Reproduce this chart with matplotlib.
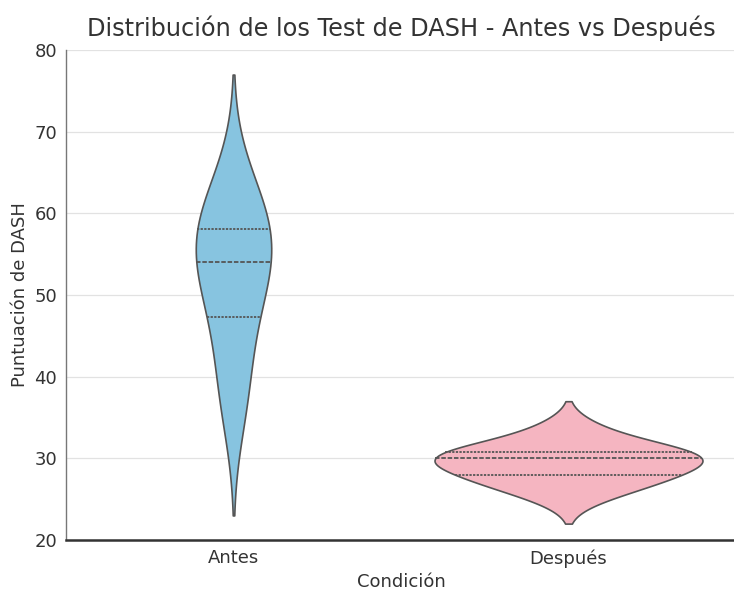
import matplotlib
matplotlib.use("Agg")
import matplotlib.pyplot as plt
import seaborn as sns
import pandas as pd

conditions = ["Antes", "Después"]
antes_scores = [35, 38, 41, 45, 48, 50, 52, 54, 54, 56, 57, 58, 58.5, 60, 62, 65]
despues_scores = [25.5, 27, 28, 28, 30, 30, 30, 31, 31, 33.5]
palette = {"Antes": "#87C4E0", "Después": "#F5B5C1"}

df = pd.DataFrame({
    "Condición": [conditions[0]] * len(antes_scores) + [conditions[1]] * len(despues_scores),
    "Puntuación de DASH": antes_scores + despues_scores,
})

sns.set_style("whitegrid")
plt.rcParams['font.family'] = ['DejaVu Sans']

fig = plt.figure(figsize=(7.34, 5.95), dpi=100)
ax = fig.add_axes([66 / 734, 55 / 595, 670 / 734, 490 / 595])

sns.violinplot(data=df, x="Condición", y="Puntuación de DASH", hue="Condición",
               palette=palette, saturation=1, inner="quart", legend=False, ax=ax,
               linewidth=1.2, linecolor="#555555", order=conditions,
               density_norm="area", common_norm=True,
               bw_adjust=1.2, cut=2,
               inner_kws={"linewidth": 1.3})

ax.set_xlim(-0.5, 1.5)
ax.set_ylim(20, 80)
ax.set_yticks([20, 30, 40, 50, 60, 70, 80])
ax.grid(axis="y", color="#e2e2e2", linewidth=0.9)
ax.grid(axis="x", visible=False)
for s in ["top", "right"]:
    ax.spines[s].set_visible(False)
ax.spines["left"].set_color("#777777")
ax.spines["left"].set_linewidth(1.0)
ax.spines["bottom"].set_color("#333333")
ax.spines["bottom"].set_linewidth(1.8)
ax.tick_params(axis="both", length=3, colors="#333333", labelsize=13)
ax.set_title("Distribución de los Test de DASH - Antes vs Después", fontsize=17.3, color="#333333", pad=10)
ax.set_xlabel("Condición", fontsize=13, color="#333333")
ax.set_ylabel("Puntuación de DASH", fontsize=13, color="#333333")

fig.savefig("out.png", dpi=100)
